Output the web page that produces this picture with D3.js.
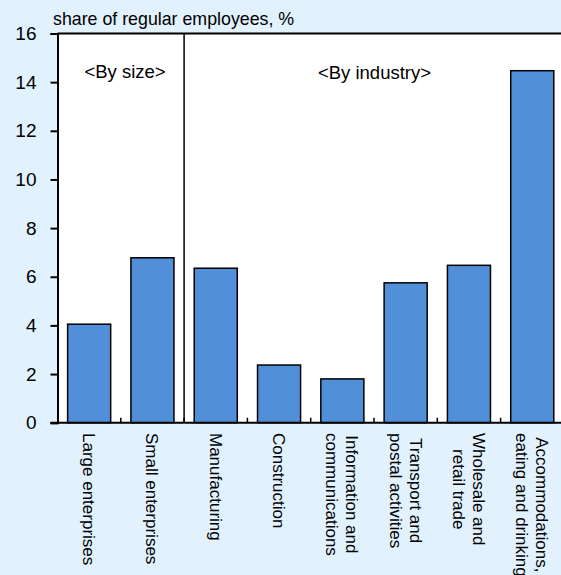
<!DOCTYPE html>
<html>
<head>
<meta charset="utf-8">
<script src="https://cdn.jsdelivr.net/npm/d3@7"></script>
<style>
  body { margin: 0; background: #e1f1fd; }
  text { font-family: "Liberation Sans", Arial, sans-serif; fill: #000; }
</style>
</head>
<body>
<script>
var width = 561;
var height = 575;

// data
var categories = ["Large enterprises", "Small enterprises", "Manufacturing", "Construction",
                  "Information and communications", "Transport and postal activities",
                  "Wholesale and retail trade", "Accommodations, eating and drinking"];
var labelLines = [["Large enterprises"], ["Small enterprises"], ["Manufacturing"], ["Construction"],
                  ["Information and", "communications"], ["Transport and", "postal activities"],
                  ["Wholesale and", "retail trade"], ["Accommodations,", "eating and drinking"]];
var values = [4.05, 6.78, 6.35, 2.37, 1.8, 5.75, 6.47, 14.47];
var yTicks = [0, 2, 4, 6, 8, 10, 12, 14, 16];
var groupLabels = ["<By size>", "<By industry>"];

var left = 57.5, plotTop = 33.5, plotBottom = 422.7;
var step = 63.3;

var svg = d3.select("body").append("svg")
    .attr("width", width)
    .attr("height", height);

svg.append("rect")
    .attr("width", width).attr("height", height)
    .attr("fill", "#e1f1fd");

var x = d3.scaleBand()
    .domain(categories)
    .range([left, left + step * categories.length])
    .paddingInner(0.32)
    .paddingOuter(0.16);

var y = d3.scaleLinear()
    .domain([0, 16])
    .range([plotBottom, plotTop]);

// plot background
svg.append("rect")
    .attr("x", left).attr("y", y(16))
    .attr("width", width - left + 10)
    .attr("height", y(0) - y(16))
    .attr("fill", "white");

// top frame line
svg.append("line")
    .attr("x1", left).attr("x2", width + 5)
    .attr("y1", y(16)).attr("y2", y(16))
    .attr("stroke", "black").attr("stroke-width", 2);

// bars
svg.selectAll("rect.bar")
    .data(values)
    .enter()
    .append("rect")
    .attr("class", "bar")
    .attr("x", (d, i) => x(categories[i]))
    .attr("y", d => y(d))
    .attr("width", x.bandwidth())
    .attr("height", d => y(0) - y(d))
    .attr("fill", "#528fd9")
    .attr("stroke", "black")
    .attr("stroke-width", 1.5);

// divider between size and industry groups
var divX = x(categories[2]) - (x.step() - x.bandwidth()) / 2;
svg.append("line")
    .attr("x1", divX).attr("x2", divX)
    .attr("y1", y(16)).attr("y2", y(0))
    .attr("stroke", "black").attr("stroke-width", 1.5);

// small inner ticks between categories
var bounds = categories.slice(1).map(c => x(c) - (x.step() - x.bandwidth()) / 2);
svg.selectAll("line.xtick")
    .data(bounds)
    .enter()
    .append("line")
    .attr("class", "xtick")
    .attr("x1", d => d).attr("x2", d => d)
    .attr("y1", y(0)).attr("y2", y(0) - 5)
    .attr("stroke", "black").attr("stroke-width", 1.5);

// y axis
var yAxis = d3.axisLeft(y)
    .tickValues(yTicks)
    .tickSize(7)
    .tickPadding(14)
    .tickFormat(d3.format("d"));

var gy = svg.append("g")
    .attr("transform", "translate(" + left + ",0)")
    .call(yAxis);
gy.select(".domain").attr("stroke-width", 2);
gy.selectAll(".tick line").attr("stroke-width", 2);
gy.selectAll(".tick text")
    .attr("font-size", "19px")
    .attr("font-family", "Liberation Sans, Arial, sans-serif")
    .attr("fill", "black");

// x axis line
svg.append("line")
    .attr("x1", left - 7).attr("x2", width + 5)
    .attr("y1", y(0)).attr("y2", y(0))
    .attr("stroke", "black").attr("stroke-width", 2);

// axis title
svg.append("text")
    .attr("x", 53).attr("y", 25)
    .attr("font-size", "17.8px")
    .text("share of regular employees, %");

// group labels
svg.append("text")
    .attr("x", 125).attr("y", 78)
    .attr("text-anchor", "middle")
    .attr("font-size", "18.5px")
    .text(groupLabels[0]);
svg.append("text")
    .attr("x", 374.5).attr("y", 79)
    .attr("text-anchor", "middle")
    .attr("font-size", "18.5px")
    .text(groupLabels[1]);

// rotated category labels
var lineGap = 20;
var labelTop = 433;
var labels = svg.selectAll("g.xlabel")
    .data(labelLines)
    .enter()
    .append("g")
    .attr("class", "xlabel");

labels.each(function (lines, i) {
    var g = d3.select(this);
    var t = g.append("text")
        .attr("font-size", "17px")
        .attr("text-anchor", "middle");
    lines.forEach(function (line, j) {
        t.append("tspan")
            .attr("x", 0)
            .attr("y", (j - (lines.length - 1) / 2) * lineGap)
            .attr("dy", "0.35em")
            .text(line);
    });
    var maxLen = d3.max(t.selectAll("tspan").nodes(), n => n.getComputedTextLength());
    var cx = x(categories[i]) + x.bandwidth() / 2;
    g.attr("transform", "translate(" + cx + "," + (labelTop + maxLen / 2) + ") rotate(90)");
});
</script>
</body>
</html>
